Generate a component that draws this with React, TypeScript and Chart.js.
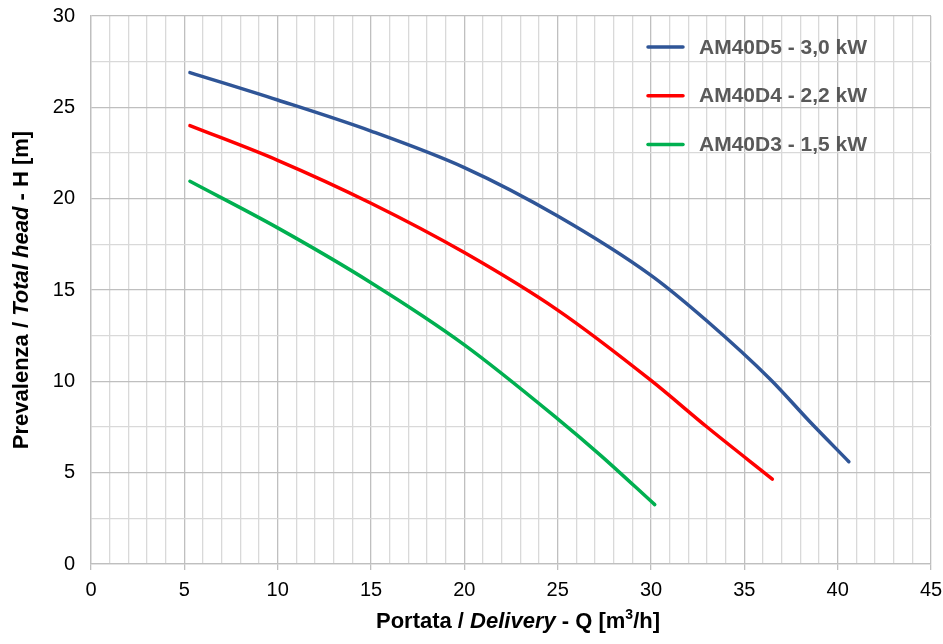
import React, { useEffect, useRef } from "react";
import { Chart, registerables } from "chart.js";

Chart.register(...registerables);

const seriesLabels = ["AM40D5 - 3,0 kW", "AM40D4 - 2,2 kW", "AM40D3 - 1,5 kW"];
const seriesColors = ["#2F5597", "#FF0000", "#00B050"];

const blueQ = [5.3, 10, 15, 20, 25, 30, 33, 36.4, 38.5, 40.6];
const blueH = [26.9, 25.4, 23.7, 21.7, 19.05, 15.8, 13.3, 10.1, 7.8, 5.6];

const redQ = [5.3, 10, 15, 20, 25, 30, 33, 36.5];
const redH = [24.0, 22.1, 19.75, 17.05, 13.9, 10.05, 7.5, 4.65];

const greenQ = [5.3, 10, 15, 20, 25, 27.3, 30.2];
const greenH = [20.95, 18.4, 15.4, 12.0, 7.95, 5.95, 3.25];

const xMin = 0, xMax = 45, xStep = 1, xMajor = 5;
const yMin = 0, yMax = 30, yStep = 2.5, yMajor = 5;

const toPts = (q: number[], h: number[]) => q.map((v, i) => ({ x: v, y: h[i] }));

const MAJOR = "#BFBFBF";
const MINOR = "#D9D9D9";
const FONT = "'Liberation Sans', Arial, sans-serif";

const legendPlugin = {
  id: "insideLegend",
  afterDatasetsDraw(chart: any) {
    const ctx = chart.ctx;
    ctx.save();
    chart.data.datasets.forEach((ds: any, i: number) => {
      const y = 47 + i * 48.7;
      ctx.strokeStyle = ds.borderColor;
      ctx.lineWidth = 3.5;
      ctx.lineCap = "round";
      ctx.beginPath();
      ctx.moveTo(648, y);
      ctx.lineTo(683, y);
      ctx.stroke();
      ctx.fillStyle = "#595959";
      ctx.font = `bold 21px ${FONT}`;
      ctx.textBaseline = "middle";
      ctx.textAlign = "left";
      ctx.fillText(ds.label, 699, y + 1);
    });
    ctx.restore();
  },
};

const drawRuns = (ctx: any, runs: { t: string; f: string; dy?: number }[], cx: number, cy: number) => {
  let total = 0;
  runs.forEach((r) => {
    ctx.font = r.f;
    total += ctx.measureText(r.t).width;
  });
  let x = cx - total / 2;
  runs.forEach((r) => {
    ctx.font = r.f;
    ctx.fillText(r.t, x, cy + (r.dy || 0));
    x += ctx.measureText(r.t).width;
  });
};

const titlePlugin = {
  id: "axisTitles",
  afterDraw(chart: any) {
    const ctx = chart.ctx;
    const area = chart.chartArea;
    const b = `bold 22px ${FONT}`;
    const bi = `italic bold 22px ${FONT}`;
    const sup = `bold 14px ${FONT}`;
    ctx.save();
    ctx.fillStyle = "#000000";
    ctx.textBaseline = "alphabetic";
    ctx.textAlign = "left";
    drawRuns(
      ctx,
      [
        { t: "Portata / ", f: b },
        { t: "Delivery", f: bi },
        { t: " - Q [m", f: b },
        { t: "3", f: sup, dy: -9 },
        { t: "/h]", f: b },
      ],
      (area.left + area.right) / 2 + 7,
      628
    );
    ctx.translate(28, (area.top + area.bottom) / 2);
    ctx.rotate(-Math.PI / 2);
    drawRuns(
      ctx,
      [
        { t: "Prevalenza / ", f: b },
        { t: "Total head", f: bi },
        { t: " - H [m]", f: b },
      ],
      0,
      0
    );
    ctx.restore();
  },
};

export default function App() {
  const ref = useRef<HTMLCanvasElement | null>(null);
  useEffect(() => {
    document.body.style.margin = "0";
    if (!ref.current) return;
    const mk = (i: number, q: number[], h: number[]) => ({
      label: seriesLabels[i],
      data: toPts(q, h),
      borderColor: seriesColors[i],
      backgroundColor: seriesColors[i],
      borderWidth: 3.5,
      pointRadius: 0,
      tension: 0.4,
      cubicInterpolationMode: "monotone" as const,
      borderCapStyle: "round" as const,
      fill: false,
    });
    const chart = new Chart(ref.current, {
      type: "line",
      data: {
        datasets: [mk(0, blueQ, blueH), mk(1, redQ, redH), mk(2, greenQ, greenH)],
      },
      plugins: [legendPlugin, titlePlugin],
      options: {
        animation: false,
        responsive: false,
        maintainAspectRatio: false,
        layout: { padding: { top: 16, right: 12, left: 0, bottom: 0 } },
        plugins: { legend: { display: false }, tooltip: { enabled: false } },
        scales: {
          x: {
            type: "linear",
            min: xMin,
            max: xMax,
            afterFit: (s: any) => {
              s.height = 80;
              s.paddingLeft = 0;
              s.paddingRight = 0;
            },
            ticks: {
              stepSize: xStep,
              autoSkip: false,
              maxRotation: 0,
              color: "#000000",
              font: { size: 20, family: FONT },
              padding: 8,
              callback: (v: any) => (Number(v) % xMajor === 0 ? String(v) : ""),
            },
            grid: {
              color: (c: any) => (c.tick && c.tick.value % xMajor === 0 ? MAJOR : MINOR),
              tickColor: (c: any) => (c.tick && c.tick.value % xMajor === 0 ? MAJOR : "rgba(0,0,0,0)"),
              tickLength: 6,
              lineWidth: 1.3,
            },
            border: { color: MAJOR, width: 1.3 },
          },
          y: {
            type: "linear",
            min: yMin,
            max: yMax,
            afterFit: (s: any) => {
              s.width = 91;
              s.paddingTop = 0;
              s.paddingBottom = 0;
            },
            ticks: {
              stepSize: yStep,
              autoSkip: false,
              color: "#000000",
              font: { size: 20, family: FONT },
              padding: 16,
              callback: (v: any) => (Number(v) % yMajor === 0 ? String(v) : ""),
            },
            grid: {
              color: (c: any) => (c.tick && c.tick.value % yMajor === 0 ? MAJOR : MINOR),
              drawTicks: false,
              lineWidth: 1.3,
            },
            border: { color: MAJOR, width: 1.3 },
          },
        },
      },
    });
    return () => chart.destroy();
  }, []);
  return (
    <div style={{ width: 943, height: 644, background: "#fff" }}>
      <canvas ref={ref} width={943} height={644} style={{ width: 943, height: 644, display: "block" }} />
    </div>
  );
}
